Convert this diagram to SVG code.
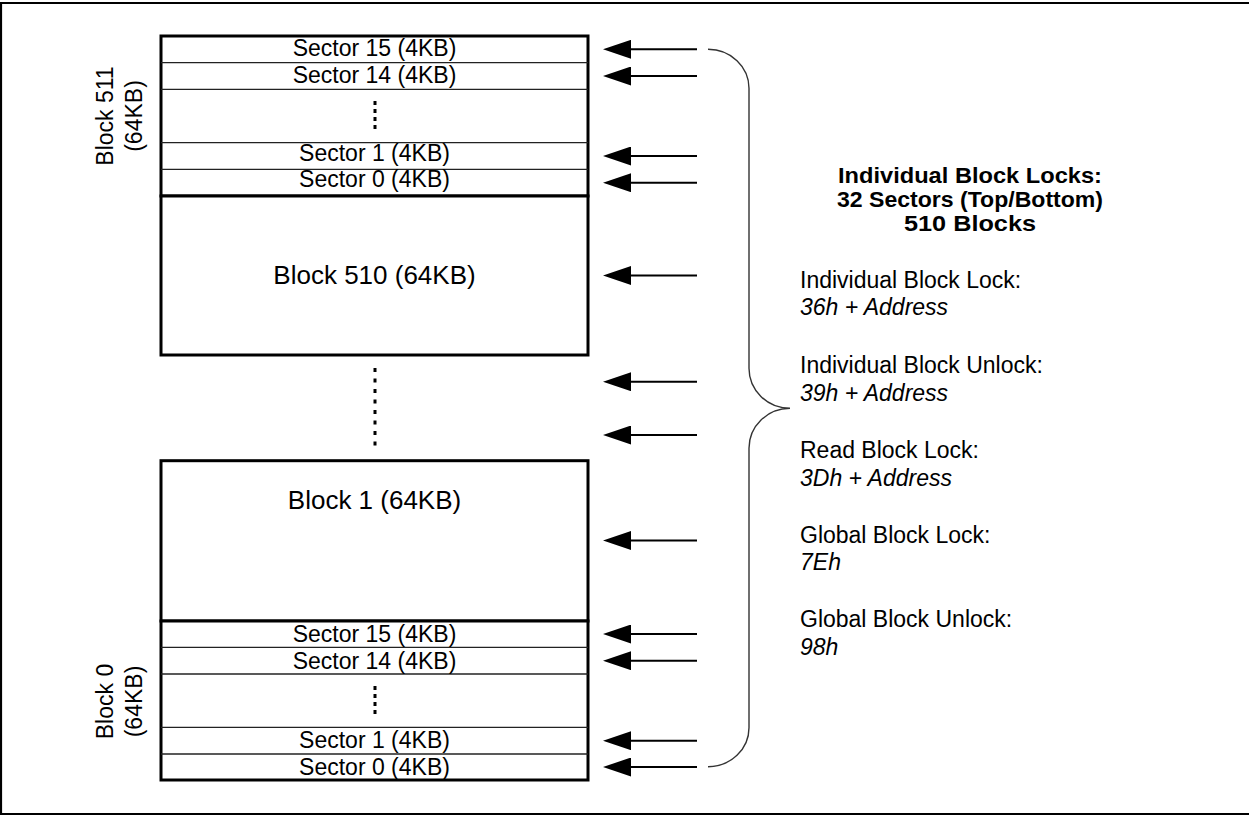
<svg xmlns="http://www.w3.org/2000/svg" width="1249" height="815" viewBox="0 0 1249 815">
<style>
text{font-family:"Liberation Sans",Arial,sans-serif;fill:#000}
.sec{font-size:23px;text-anchor:middle}
.blk{font-size:26px;text-anchor:middle}
.side{font-size:23px;text-anchor:middle}
.hd{font-size:21.4px;font-weight:bold;text-anchor:middle}
.lb{font-size:23px}
.it{font-size:23px;font-style:italic}
.box{fill:#fff;stroke:#000;stroke-width:3}
.thin{stroke:#222;stroke-width:1.3}
.dots{stroke:#000;stroke-width:3}
.arr{stroke:#000;stroke-width:2;marker-end:url(#ah)}
.brace{fill:none;stroke:#333;stroke-width:1.4}
</style>
<defs>
<marker id="ah" markerUnits="userSpaceOnUse" viewBox="0 0 28 19" markerWidth="28" markerHeight="19" refX="6" refY="9.5" orient="auto">
<path d="M0,0 L28,9.5 L0,19 z" fill="#000"/>
</marker>
</defs>
<rect width="1249" height="815" fill="#fff"/>
<path id="frame" d="M1250,3 H1 V814 H1250" fill="none" stroke="#000" stroke-width="2.2"/>

<g id="block511">
<rect class="box" x="161" y="36" width="427" height="160"/>
<line class="thin" x1="161" y1="62.7" x2="588" y2="62.7"/>
<line class="thin" x1="161" y1="89.3" x2="588" y2="89.3"/>
<line class="thin" x1="161" y1="142.7" x2="588" y2="142.7"/>
<line class="thin" x1="161" y1="169.3" x2="588" y2="169.3"/>
<text class="sec" x="374.5" y="56">Sector 15 (4KB)</text>
<text class="sec" x="374.5" y="82.7">Sector 14 (4KB)</text>
<line class="dots" x1="375" y1="101" x2="375" y2="129" stroke-dasharray="4 4"/>
<text class="sec" x="374.5" y="160.7">Sector 1 (4KB)</text>
<text class="sec" x="374.5" y="187.3">Sector 0 (4KB)</text>
<text class="side" transform="translate(113,116) rotate(-90)">Block 511</text>
<text class="side" transform="translate(141.5,116) rotate(-90)">(64KB)</text>
</g>

<g id="block510">
<rect class="box" x="161" y="196" width="427" height="159"/>
<text class="blk" x="374.5" y="284">Block 510 (64KB)</text>
</g>

<g id="gap">
<line class="dots" x1="375" y1="368" x2="375" y2="446" stroke-dasharray="4 6.5"/>
</g>

<g id="block1">
<rect class="box" x="161" y="460.7" width="427" height="160.3"/>
<text class="blk" x="374.5" y="509">Block 1 (64KB)</text>
</g>

<g id="block0">
<rect class="box" x="161" y="621" width="427" height="159"/>
<line class="thin" x1="161" y1="647.3" x2="588" y2="647.3"/>
<line class="thin" x1="161" y1="674" x2="588" y2="674"/>
<line class="thin" x1="161" y1="727.3" x2="588" y2="727.3"/>
<line class="thin" x1="161" y1="754" x2="588" y2="754"/>
<text class="sec" x="374.5" y="642">Sector 15 (4KB)</text>
<text class="sec" x="374.5" y="669">Sector 14 (4KB)</text>
<line class="dots" x1="375" y1="686" x2="375" y2="714" stroke-dasharray="4 4"/>
<text class="sec" x="374.5" y="748">Sector 1 (4KB)</text>
<text class="sec" x="374.5" y="775">Sector 0 (4KB)</text>
<text class="side" transform="translate(113,701.5) rotate(-90)">Block 0</text>
<text class="side" transform="translate(141.5,701.5) rotate(-90)">(64KB)</text>
</g>

<g id="connectors">
<line class="arr" x1="697" y1="49.3" x2="625" y2="49.3"/>
<line class="arr" x1="697" y1="76" x2="625" y2="76"/>
<line class="arr" x1="697" y1="156" x2="625" y2="156"/>
<line class="arr" x1="697" y1="182.7" x2="625" y2="182.7"/>
<line class="arr" x1="697" y1="275.5" x2="625" y2="275.5"/>
<line class="arr" x1="697" y1="381.7" x2="625" y2="381.7"/>
<line class="arr" x1="697" y1="435" x2="625" y2="435"/>
<line class="arr" x1="697" y1="540.5" x2="625" y2="540.5"/>
<line class="arr" x1="697" y1="634" x2="625" y2="634"/>
<line class="arr" x1="697" y1="660.7" x2="625" y2="660.7"/>
<line class="arr" x1="697" y1="740.7" x2="625" y2="740.7"/>
<line class="arr" x1="697" y1="767" x2="625" y2="767"/>
</g>

<g id="brace">
<path class="brace" d="M708,49.3 A41,39 0 0 1 749,88.3 L749,368 A41,40 0 0 0 790,408.3 A41,40 0 0 0 749,448.3 L749,727.7 A41,39 0 0 1 708,766.7"/>
</g>

<g id="legend">
<text class="hd" x="970" y="182.5" textLength="264" lengthAdjust="spacingAndGlyphs">Individual Block Locks:</text>
<text class="hd" x="970" y="206.5" textLength="266" lengthAdjust="spacingAndGlyphs">32 Sectors (Top/Bottom)</text>
<text class="hd" x="970" y="230.5" textLength="132" lengthAdjust="spacingAndGlyphs">510 Blocks</text>
<text class="lb" x="800" y="287.7">Individual Block Lock:</text>
<text class="it" x="800" y="315">36h + Address</text>
<text class="lb" x="800" y="373">Individual Block Unlock:</text>
<text class="it" x="800" y="400.5">39h + Address</text>
<text class="lb" x="800" y="458.3">Read Block Lock:</text>
<text class="it" x="800" y="485.7">3Dh + Address</text>
<text class="lb" x="800" y="543.3">Global Block Lock:</text>
<text class="it" x="800" y="570">7Eh</text>
<text class="lb" x="800" y="627.3">Global Block Unlock:</text>
<text class="it" x="800" y="655">98h</text>
</g>
</svg>
